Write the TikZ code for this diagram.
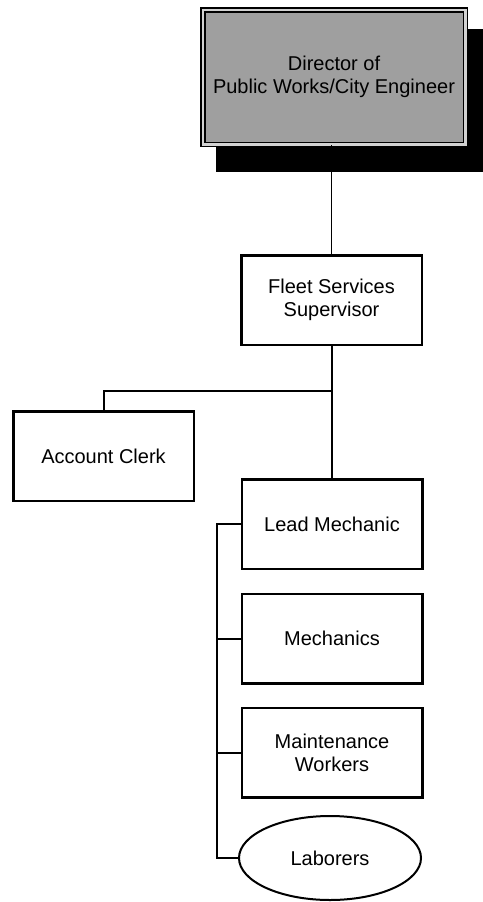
\documentclass[tikz,border=0pt]{standalone}
\usepackage{fontspec}
\setmainfont{Liberation Sans}
\usepackage{tikz}
\usetikzlibrary{shapes.geometric}

\begin{document}
\begin{tikzpicture}[x=1pt,y=1pt,
		box/.style={rectangle,draw=black,line width=2.5pt,minimum width=180.5pt,minimum height=89.5pt,inner sep=0pt,align=center,font=\fontsize{20}{23}\selectfont},
		link/.style={line width=2pt}]
			\useasboundingbox (0,0) rectangle (482,-902);
			\fill[black] (216,-29) rectangle (486,-172);
			\node[box,fill=gray!75,line width=1.5pt,double=gray!35,double distance=2.5pt,minimum width=262.5pt,minimum height=134.5pt] (dir) at (334,-77) {Director of\\Public Works/City Engineer};
			\node[box] (fleet) at (331.5,-300) {Fleet Services\\Supervisor};
			\node[box] (clerk) at (103.5,-456) {Account Clerk};
			\node[box] (lead) at (332,-524) {Lead Mechanic};
			\node[box] (mech) at (332,-638.5) {Mechanics};
			\node[box] (maint) at (332,-752.5) {Maintenance\\Workers};
			\node[box,ellipse,line width=2pt,minimum width=182pt,minimum height=84pt] (lab) at (330,-858) {Laborers};
			\coordinate (split) at (331.5,-391);
			\coordinate (bus) at (217,-524);
			
			\draw[line width=1.5pt] (fleet.north) -- (fleet.north |- dir.south);
			\draw[link] (fleet.south) -- (split) -| (clerk.north);
			\draw[link] (split) -- (split |- lead.north);
			\draw[link] (lead.west) -- (bus) |- (lab.west);
			\foreach \n in {mech,maint} {
				\draw[link] (\n.west) -- (bus |- \n.west);
			}
		\end{tikzpicture}
\end{document}
